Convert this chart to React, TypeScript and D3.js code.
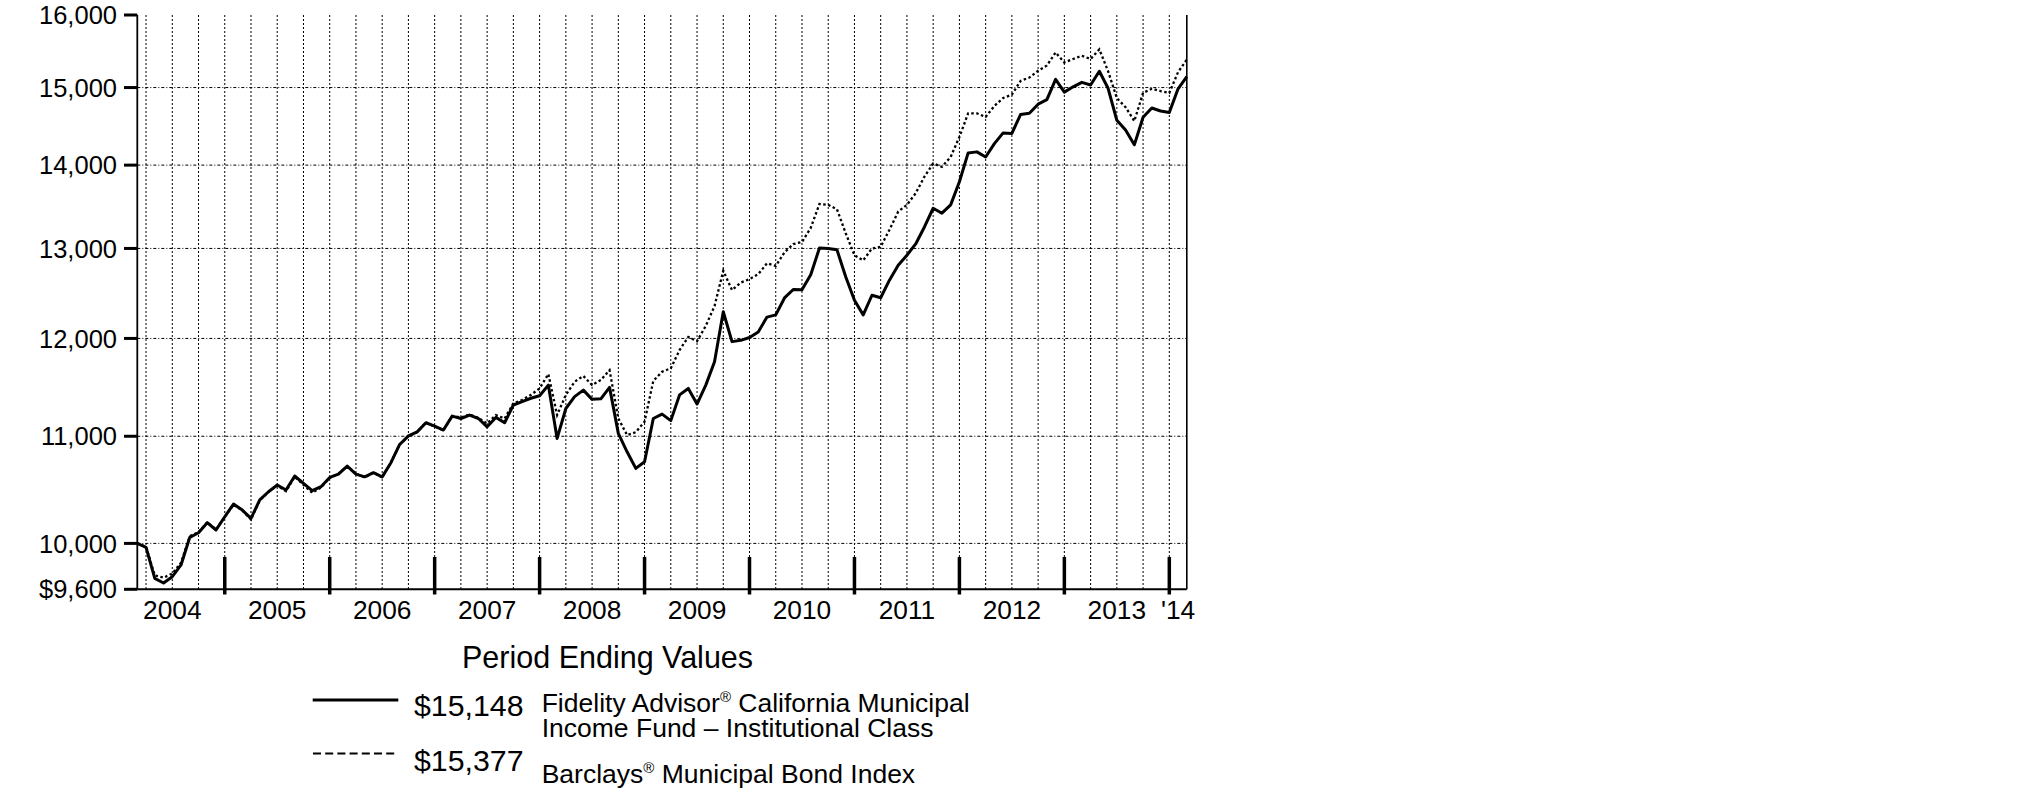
import React from 'react';
import * as d3 from 'd3';

// Monthly values, index 0 = Feb 2004 ... index 120 = Feb 2014
const fundValues: number[] = [
  10000, 9965, 9694, 9654, 9708, 9810, 10054, 10095, 10186, 10120,
  10240, 10356, 10301, 10225, 10394, 10470, 10533, 10486, 10618, 10548,
  10480, 10517, 10604, 10636, 10712, 10636, 10610, 10649, 10610, 10744,
  10920, 11003, 11043, 11133, 11100, 11061, 11199, 11175, 11209, 11175,
  11093, 11186, 11133, 11310, 11345, 11378, 11403, 11512, 10979, 11275,
  11395, 11461, 11367, 11372, 11489, 11028, 10849, 10690, 10753, 11175,
  11219, 11154, 11412, 11478, 11320, 11512, 11754, 12288, 11966, 11980,
  12010, 12070, 12230, 12254, 12440, 12534, 12530, 12700, 13005, 13000,
  12984, 12676, 12415, 12254, 12470, 12442, 12638, 12808, 12922, 13052,
  13251, 13473, 13414, 13514, 13794, 14153, 14166, 14102, 14270, 14407,
  14400, 14645, 14660, 14780, 14839, 15110, 14939, 15010, 15070, 15035,
  15219, 14990, 14570, 14444, 14255, 14608, 14730, 14690, 14670, 14984,
  15148,
];

const indexValues: number[] = [
  10000, 9970, 9720, 9700, 9735, 9830, 10065, 10100, 10190, 10125,
  10240, 10350, 10300, 10215, 10390, 10470, 10530, 10475, 10610, 10535,
  10460, 10510, 10600, 10640, 10710, 10640, 10605, 10650, 10605, 10745,
  10920, 11000, 11040, 11135, 11095, 11060, 11200, 11185, 11215, 11180,
  11126, 11209, 11175, 11326, 11361, 11412, 11478, 11626, 11209, 11412,
  11546, 11606, 11512, 11564, 11666, 11175, 11012, 11040, 11144, 11555,
  11649, 11686, 11877, 12015, 11970, 12135, 12350, 12745, 12527, 12611,
  12650, 12705, 12830, 12799, 12955, 13050, 13075, 13240, 13525, 13514,
  13461, 13177, 12922, 12862, 13000, 13019, 13218, 13433, 13514, 13654,
  13857, 14020, 13979, 14102, 14355, 14660, 14660, 14613, 14757, 14861,
  14906, 15090, 15134, 15225, 15297, 15475, 15338, 15386, 15430, 15386,
  15518, 15220, 14860, 14740, 14560, 14929, 14984, 14954, 14929, 15207,
  15377,
];

const yTickValues = [16000, 15000, 14000, 13000, 12000, 11000, 10000, 9600];
const yTickLabels = ['16,000', '15,000', '14,000', '13,000', '12,000', '11,000', '10,000', '$9,600'];
const yGridValues = [15000, 14000, 13000, 12000, 11000, 10000];

const yearLabels = ['2004', '2005', '2006', '2007', '2008', '2009', '2010', '2011', '2012', '2013', "'14"];
// month index (0 = Feb 2004) of each label centre
const yearLabelMonths = [4, 16, 28, 40, 52, 64, 76, 88, 100, 112, 119];
// month index of each December year end
const yearEndMonths = [10, 22, 34, 46, 58, 70, 82, 94, 106, 118];
// month index of each calendar quarter end
const quarterMonths = [1, 4, 7, 10, 13, 16, 19, 22, 25, 28, 31, 34, 37, 40, 43, 46, 49, 52, 55, 58,
  61, 64, 67, 70, 73, 76, 79, 82, 85, 88, 91, 94, 97, 100, 103, 106, 109, 112, 115, 118];

const legendTitle = 'Period Ending Values';
const fundEnd = '$15,148';
const indexEnd = '$15,377';

const W = 2025;
const H = 806;
const left = 137.3;
const right = 1186.8;
const top = 15;
const bottom = 589.3;
const FONT = "'Liberation Sans', Arial, Helvetica, sans-serif";

export default function App() {
  const x = d3.scaleLinear().domain([0, fundValues.length - 1]).range([left, right]);
  const y = d3.scaleLog().domain([9600, 16000]).range([bottom, top]);

  const line = d3
    .line<number>()
    .x((_, i) => x(i))
    .y((d) => y(d));

  return (
    <svg
      width={W}
      height={H}
      viewBox={`0 0 ${W} ${H}`}
      style={{ position: 'absolute', left: 0, top: 0, background: '#fff' }}
      fontFamily={FONT}
    >
      <rect x={0} y={0} width={W} height={H} fill="#fff" />

      {/* vertical quarter gridlines */}
      {quarterMonths.map((m) => (
        <line
          key={'q' + m}
          x1={x(m)}
          x2={x(m)}
          y1={top}
          y2={bottom}
          stroke="#000"
          strokeWidth={1}
          strokeDasharray="2,2"
        />
      ))}

      {/* horizontal gridlines */}
      {yGridValues.map((v) => (
        <line
          key={'h' + v}
          x1={left}
          x2={right}
          y1={y(v)}
          y2={y(v)}
          stroke="#000"
          strokeWidth={1}
          strokeDasharray="3,2,1,2"
        />
      ))}

      {/* frame */}
      <line x1={left} x2={left} y1={top} y2={bottom} stroke="#000" strokeWidth={1.8} />
      <line x1={right} x2={right} y1={top} y2={bottom} stroke="#000" strokeWidth={1.6} />
      <line x1={left} x2={right} y1={bottom} y2={bottom} stroke="#000" strokeWidth={2} />

      {/* y ticks and labels */}
      {yTickValues.map((v, i) => (
        <g key={'yt' + v}>
          <line x1={124} x2={left} y1={y(v)} y2={y(v)} stroke="#000" strokeWidth={3} />
          <text
            x={117}
            y={y(v)}
            dy="0.36em"
            textAnchor="end"
            fontSize={25.5}
            fill="#000"
          >
            {yTickLabels[i]}
          </text>
        </g>
      ))}

      {/* year boundary ticks */}
      {yearEndMonths.map((m) => (
        <line
          key={'yr' + m}
          x1={x(m)}
          x2={x(m)}
          y1={557}
          y2={594.5}
          stroke="#000"
          strokeWidth={3.5}
        />
      ))}

      {/* year labels */}
      {yearLabels.map((lab, i) => (
        <text
          key={'yl' + lab}
          x={x(yearLabelMonths[i])}
          y={618.5}
          textAnchor="middle"
          fontSize={26.3}
          fill="#000"
        >
          {lab}
        </text>
      ))}

      {/* data lines */}
      <path
        d={line(indexValues) || ''}
        fill="none"
        stroke="#000"
        strokeWidth={2.3}
        strokeDasharray="2.5,2.5"
      />
      <path
        d={line(fundValues) || ''}
        fill="none"
        stroke="#000"
        strokeWidth={3}
        strokeLinejoin="round"
      />

      {/* legend */}
      <text x={462} y={668} fontSize={30.5} fill="#000">
        {legendTitle}
      </text>

      <line x1={312.7} x2={398.3} y1={700} y2={700} stroke="#000" strokeWidth={3} />
      <text x={414} y={716} fontSize={30.3} fill="#000">
        {fundEnd}
      </text>
      <text x={541.7} y={711.5} fontSize={26.5} fill="#000">
        Fidelity Advisor
        <tspan fontSize={15} dy={-10}>®</tspan>
        <tspan dy={10}> California Municipal</tspan>
      </text>
      <text x={541.7} y={737} fontSize={26.5} fill="#000">
        Income Fund – Institutional Class
      </text>

      <line
        x1={313}
        x2={398.3}
        y1={753.5}
        y2={753.5}
        stroke="#000"
        strokeWidth={2}
        strokeDasharray="8,4.2"
      />
      <text x={414} y={770.5} fontSize={30.3} fill="#000">
        {indexEnd}
      </text>
      <text x={541.7} y={783} fontSize={26.5} fill="#000">
        Barclays
        <tspan fontSize={15} dy={-10}>®</tspan>
        <tspan dy={10}> Municipal Bond Index</tspan>
      </text>
    </svg>
  );
}
